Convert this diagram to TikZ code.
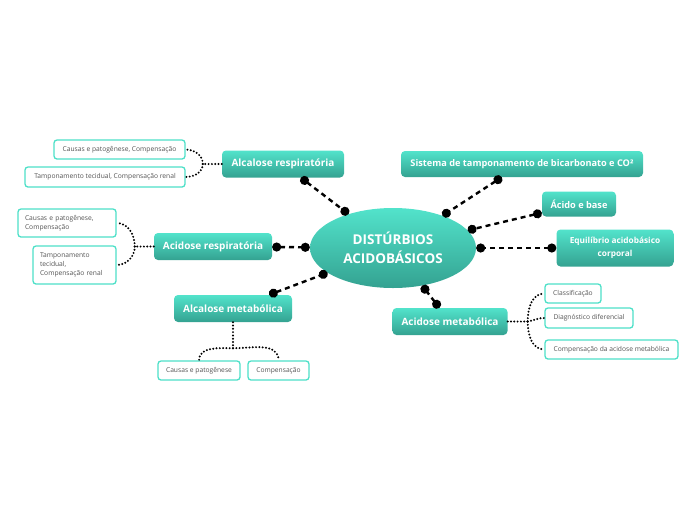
\documentclass[tikz,border=0pt]{standalone}
\usepackage{fontspec}
\setmainfont{Open Sans}
\usetikzlibrary{shapes.geometric,arrows.meta}
\definecolor{topictop}{HTML}{52E3CB}
\definecolor{topicbot}{HTML}{34A291}
\definecolor{subline}{HTML}{4DE0C8}
\definecolor{subtext}{HTML}{555555}

\begin{document}
\begin{tikzpicture}[x=1pt,y=1pt,
  topic/.style={rounded corners=4pt, top color=topictop, bottom color=topicbot,
    text=white, font=\bfseries\fontsize{10}{12}\selectfont,
    minimum height=27pt, inner sep=3pt, align=center},
  subtopic/.style={draw=subline, line width=1.3pt, fill=white, rounded corners=3pt,
    text=subtext, font=\fontsize{6.7}{9}\selectfont,
    minimum height=19pt, inner sep=3pt},
  mainlink/.style={line width=2.4pt, dash pattern=on 5pt off 4pt,
    {Circle[length=9pt]}-{Circle[length=9pt]}},
  sublink/.style={line width=2.2pt, line cap=round, dash pattern=on 0pt off 3.3pt},
]
\useasboundingbox (0,0) rectangle (696,-520);

% Central topic
\node[ellipse, top color=topictop, bottom color=topicbot, text=white,
  minimum width=166pt, minimum height=80pt, inner sep=0pt, align=center,
  font=\bfseries\fontsize{13.5}{19}\selectfont] (central) at (393,-248)
  {DISTÚRBIOS\\ACIDOBÁSICOS};

% Main topics
\node[topic, minimum width=122pt] (alcresp) at (283,-164) {Alcalose respiratória};
\node[topic, minimum width=242pt, minimum height=26pt,
  font=\bfseries\fontsize{9.2}{11}\selectfont] (sistema) at (522,-164)
  {Sistema de tamponamento de bicarbonato e CO²};
\node[topic, minimum width=74pt, minimum height=25pt,
  font=\bfseries\fontsize{9.2}{11}\selectfont] (acidobase) at (579,-204) {Ácido e base};
\node[topic, minimum width=117pt, minimum height=37pt,
  font=\bfseries\fontsize{8.3}{13}\selectfont] (equilibrio) at (615,-248)
  {Equilíbrio acidobásico\\corporal};
\node[topic, minimum width=118pt] (acresp) at (213,-246.5) {Acidose respiratória};
\node[topic, minimum width=118pt] (alcmet) at (233,-308.5) {Alcalose metabólica};
\node[topic, minimum width=115pt] (acmet) at (450,-321.5) {Acidose metabólica};

% Links to the centre
\foreach \topicname in {alcresp,sistema,acidobase,equilibrio,acresp,alcmet,acmet}
  \draw[mainlink] (\topicname) -- (central);

% Alcalose respiratoria: subtopics
\node[subtopic, minimum width=131pt] (alcresp-a) at (119.5,-149.5) {Causas e patogênese, Compensação};
\node[subtopic, minimum width=160pt, minimum height=20pt] (alcresp-b) at (105,-177) {Tamponamento tecidual, Compensação renal};
\draw[sublink] (alcresp.west) -- ++(-19,0) coordinate (alcresp-fork);
\draw[sublink] (alcresp-fork) to[out=90, in=0] (alcresp-a.east);
\draw[sublink] (alcresp-fork) to[out=270, in=0] (alcresp-b.east);

% Acidose respiratoria: subtopics
\node[subtopic, minimum width=98pt, minimum height=28pt, text width=84pt, align=left]
  (acresp-a) at (67,-223) {Causas e patogênese,\\Compensação};
\node[subtopic, minimum width=83pt, minimum height=38pt, text width=69pt, align=left]
  (acresp-b) at (74.5,-265) {Tamponamento\\tecidual,\\Compensação renal};
\draw[sublink] (acresp.west) -- ++(-19,0) coordinate (acresp-fork);
\draw[sublink] (acresp-fork) to[out=90, in=0] (acresp-a.east);
\draw[sublink] (acresp-fork) to[out=270, in=0] (acresp-b.east);

% Alcalose metabolica: subtopics
\node[subtopic, minimum width=82pt] (alcmet-a) at (199,-370.5) {Causas e patogênese};
\node[subtopic, minimum width=61pt] (alcmet-b) at (278.5,-370.5) {Compensação};
\draw[sublink] (alcmet.south) -- ++(0,-26) coordinate (alcmet-fork);
\draw[sublink] (alcmet-fork) to[out=180, in=90] (alcmet-a.north);
\draw[sublink] (alcmet-fork) to[out=0, in=90] (alcmet-b.north);

% Acidose metabolica: subtopics
\node[subtopic, minimum width=56pt] (acmet-a) at (573,-293.5) {Classificação};
\node[subtopic, minimum width=88pt, minimum height=20pt] (acmet-b) at (589,-318) {Diagnóstico diferencial};
\node[subtopic, minimum width=133pt] (acmet-c) at (611.5,-349.5) {Compensação da acidose metabólica};
\draw[sublink] (acmet.east) -- ++(20,0) coordinate (acmet-fork);
\draw[sublink] (acmet-fork) to[out=90, in=180] (acmet-a.west);
\draw[sublink] (acmet-fork) to[out=10, in=180] (acmet-b.west);
\draw[sublink] (acmet-fork) to[out=270, in=180] (acmet-c.west);

\end{tikzpicture}
\end{document}
